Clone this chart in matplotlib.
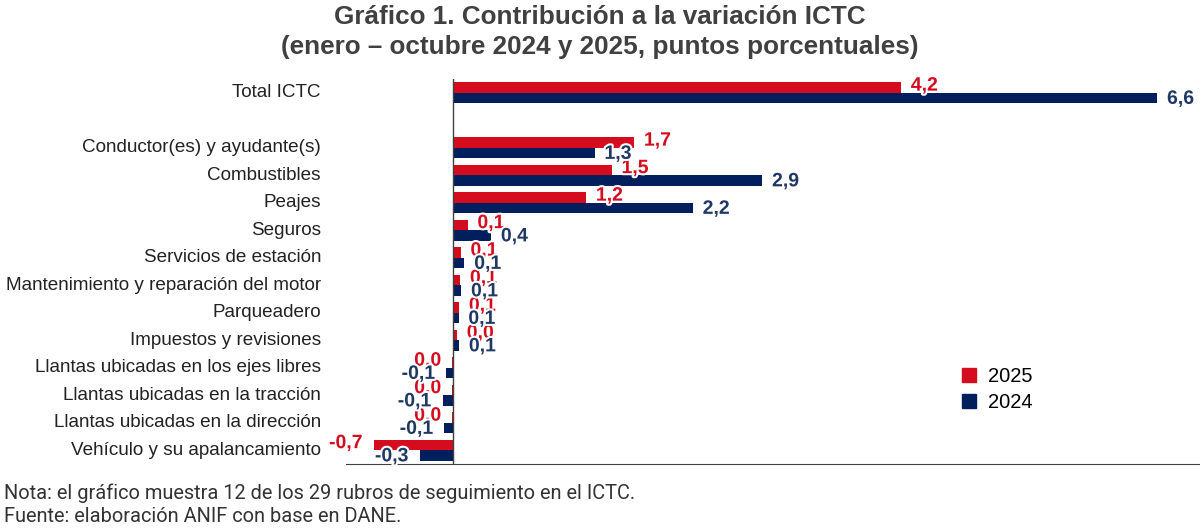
import matplotlib
matplotlib.use("Agg")
import numpy as np
import matplotlib.pyplot as plt
import matplotlib.patheffects as pe
from matplotlib.patches import Patch

categories = [
    "Total ICTC",
    "",
    "Conductor(es) y ayudante(s)",
    "Combustibles",
    "Peajes",
    "Seguros",
    "Servicios de estación",
    "Mantenimiento y reparación del motor",
    "Parqueadero",
    "Impuestos y revisiones",
    "Llantas ubicadas en los ejes libres",
    "Llantas ubicadas en la tracción",
    "Llantas ubicadas en la dirección",
    "Vehículo y su apalancamiento",
]
v2025 = [4.2, np.nan, 1.7, 1.49, 1.25, 0.14, 0.075, 0.07, 0.06, 0.04,
         -0.004, -0.004, -0.004, -0.74]
v2024 = [6.6, np.nan, 1.33, 2.9, 2.25, 0.36, 0.11, 0.08, 0.055, 0.06,
         -0.06, -0.096, -0.078, -0.31]

RED = "#D50C1E"
NAVY = "#001F5C"
NAVY_TXT = "#1F3864"

plt.rcParams["font.family"] = ["Liberation Sans", "DejaVu Sans"]

fig = plt.figure(figsize=(12, 5.28), dpi=100)
ax = fig.add_axes([346 / 1200, 64 / 528, 854 / 1200, 385 / 528])

y = np.arange(len(categories))
h = 0.38
ax.barh(y - h / 2, v2025, height=h, color=RED)
ax.barh(y + h / 2, v2024, height=h, color=NAVY)

ax.set_xlim(-1, 7)
ax.set_ylim(len(categories) - 0.5, -0.5)
ax.set_yticks(y - 0.08)
ax.set_yticklabels(categories, fontsize=13.6, color="#222222")
ax.tick_params(axis="y", length=0, pad=18)
ax.set_xticks([])
for s in ["top", "right", "left"]:
    ax.spines[s].set_visible(False)
ax.spines["bottom"].set_color("#404040")
ax.axvline(0, color="#404040", lw=1)


def fmt(v):
    s = f"{v:.1f}".replace(".", ",")
    return "0,0" if s == "-0,0" else s


stroke = [pe.withStroke(linewidth=3, foreground="white")]
for vals, off, col in [(v2025, -h / 2 - 0.05, RED), (v2024, h / 2 + 0.05, NAVY_TXT)]:
    for yi, v in zip(y, vals):
        if np.isnan(v):
            continue
        dx = 7 if v >= 0 else -8
        ax.annotate(fmt(v), (v, yi + off), xytext=(dx, 0), textcoords="offset points",
                    ha="left" if v >= 0 else "right", va="center",
                    fontsize=14, fontweight="bold", color=col, path_effects=stroke)

handles = [Patch(color=RED, label="2025"), Patch(color=NAVY, label="2024")]
ax.legend(handles=handles, loc="upper left", bbox_to_anchor=(0.70, 0.30), frameon=False,
          fontsize=14.5, handlelength=0.7, handleheight=0.7, handletextpad=0.6,
          labelspacing=0.35)

fig.text(0.5, 0.99, "Gráfico 1. Contribución a la variación ICTC\n"
         "(enero – octubre 2024 y 2025, puntos porcentuales)",
         ha="center", va="top", fontsize=18.8, fontweight="bold", color="#404040",
         linespacing=1.3)

foot = dict(ha="left", va="center", fontsize=14.4, color="#333333",
            family=["Roboto", "DejaVu Sans"])
fig.text(4 / 1200, 1 - 493 / 528,
         "Nota: el gráfico muestra 12 de los 29 rubros de seguimiento en el ICTC.", **foot)
fig.text(4 / 1200, 1 - 516 / 528, "Fuente: elaboración ANIF con base en DANE.", **foot)

fig.savefig("out.png", dpi=100)
